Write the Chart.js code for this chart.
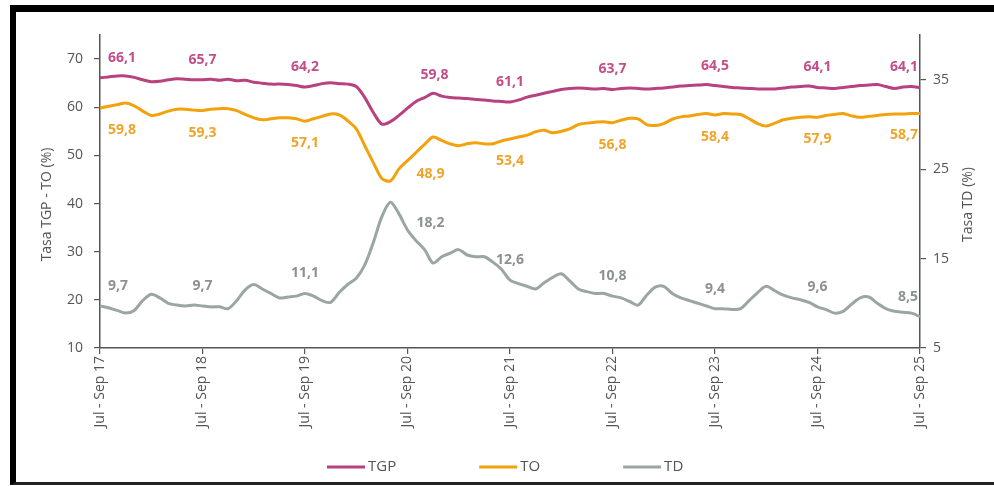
<!DOCTYPE html>
<html lang="es">
<head>
<meta charset="utf-8">
<title>TGP, TO y TD</title>
<script src="https://cdn.jsdelivr.net/npm/chart.js@4.4.1/dist/chart.umd.min.js"></script>
<style>
  html, body { margin: 0; padding: 0; background: #fff; overflow: hidden; }
  #wrap { position: relative; width: 994px; height: 486px; overflow: hidden; }
  #lineChart { position: absolute; left: 0; top: 0; }
  #frame {
    position: absolute; left: 10px; top: 5px; width: 1000px; height: 470px;
    border-top: 7px solid #000; border-left: 6px solid #000; border-bottom: 3px solid #222;
    pointer-events: none;
  }
</style>
</head>
<body>
<div id="wrap">
  <canvas id="lineChart" width="994" height="486"></canvas>
  <div id="frame"></div>
</div>
<script>
// ===== DATA =====
const MONTHS = ['Ene', 'Feb', 'Mar', 'Abr', 'May', 'Jun', 'Jul', 'Ago', 'Sep', 'Oct', 'Nov', 'Dic'];
const START_MONTH = 6;   // Jul
const START_YEAR = 2017;
const LABEL_EVERY = 12;  // one tick per year (Jul - Sep)

const SERIES_NAMES = ['TGP', 'TO', 'TD'];

// Tasa global de participación (%)
const tgp = [
  66.1, 66.3, 66.5, 66.5, 66.2, 65.7, 65.3, 65.4, 65.7, 65.9, 65.8, 65.7,
  65.7, 65.8, 65.6, 65.8, 65.5, 65.6, 65.2, 65.0, 64.8, 64.8, 64.7, 64.5,
  64.2, 64.5, 64.9, 65.1, 64.9, 64.8, 64.3, 62.0, 58.9, 56.5, 57.0, 58.3,
  59.8, 61.2, 62.0, 62.9, 62.3, 62.0, 61.9, 61.8, 61.6, 61.5, 61.3, 61.2,
  61.1, 61.5, 62.1, 62.5, 62.9, 63.3, 63.7, 63.9, 64.0, 63.9, 63.8, 63.9,
  63.7, 63.9, 64.0, 63.9, 63.8, 63.9, 64.0, 64.2, 64.4, 64.5, 64.6, 64.7,
  64.5, 64.3, 64.1, 64.0, 63.9, 63.8, 63.8, 63.8, 64.0, 64.2, 64.3, 64.4,
  64.1, 64.0, 63.9, 64.1, 64.3, 64.5, 64.6, 64.7, 64.3, 63.9, 64.2, 64.3,
  64.1
];

// Tasa de ocupación (%)
const to = [
  59.8, 60.2, 60.5, 60.9, 60.3, 59.2, 58.3, 58.6, 59.2, 59.6, 59.6, 59.4,
  59.3, 59.6, 59.7, 59.7, 59.3, 58.5, 57.8, 57.4, 57.6, 57.8, 57.8, 57.6,
  57.1, 57.6, 58.1, 58.6, 58.4, 57.2, 55.5, 52.0, 48.5, 45.2, 44.7, 47.2,
  48.9, 50.6, 52.3, 53.8, 53.1, 52.4, 52.0, 52.4, 52.6, 52.4, 52.4, 53.0,
  53.4, 53.8, 54.2, 54.9, 55.2, 54.7, 55.0, 55.5, 56.4, 56.7, 56.9, 57.0,
  56.8, 57.3, 57.7, 57.6, 56.4, 56.2, 56.6, 57.5, 58.0, 58.2, 58.5, 58.7,
  58.4, 58.7, 58.6, 58.5, 57.6, 56.6, 56.1, 56.7, 57.4, 57.7, 57.9, 58.0,
  57.9, 58.3, 58.5, 58.7, 58.2, 57.9, 58.1, 58.3, 58.5, 58.6, 58.6, 58.7,
  58.7
];

// Tasa de desempleo (%), eje derecho
const td = [
  9.7, 9.5, 9.2, 8.9, 9.2, 10.3, 11.0, 10.6, 10.0, 9.8, 9.7, 9.8,
  9.7, 9.6, 9.6, 9.4, 10.3, 11.5, 12.1, 11.6, 11.1, 10.6, 10.7, 10.8,
  11.1, 10.8, 10.3, 10.1, 11.2, 12.1, 12.8, 14.3, 16.8, 19.7, 21.3, 20.0,
  18.2, 17.0, 16.0, 14.5, 15.2, 15.6, 16.0, 15.4, 15.2, 15.2, 14.6, 13.8,
  12.6, 12.2, 11.9, 11.6, 12.3, 12.9, 13.3, 12.5, 11.6, 11.3, 11.1, 11.1,
  10.8, 10.6, 10.2, 9.8, 10.9, 11.8, 11.9, 11.1, 10.6, 10.3, 10.0, 9.7,
  9.4, 9.4, 9.3, 9.4, 10.3, 11.2, 11.9, 11.4, 10.9, 10.6, 10.4, 10.1,
  9.6, 9.3, 8.9, 9.1, 9.9, 10.6, 10.7, 10.0, 9.4, 9.1, 9.0, 8.9,
  8.5
];

const LEFT_TICKS = [10, 20, 30, 40, 50, 60, 70];
const RIGHT_TICKS = [5, 15, 25, 35];
const LEFT_TITLE = 'Tasa TGP - TO (%)';
const RIGHT_TITLE = 'Tasa TD (%)';

// Rolling quarter labels: "Jul - Sep 17", "Ago - Oct 17", ...
function quarterLabel(k) {
  const a = START_MONTH + k, b = a + 2;
  const ya = String(START_YEAR + Math.floor(a / 12)).slice(2);
  const yb = String(START_YEAR + Math.floor(b / 12)).slice(2);
  const ma = MONTHS[a % 12], mb = MONTHS[b % 12];
  return ya === yb ? `${ma} - ${mb} ${yb}` : `${ma} ${ya} - ${mb} ${yb}`;
}
const labels = tgp.map((_, k) => quarterLabel(k));

// ===== STYLE =====
const FONT = "'Open Sans', 'Noto Sans', sans-serif";
const AXIS_COLOR = '#555';
const COLORS = { TGP: '#b8417f', TO: '#f2a20c', TD: '#9aa6a2' };
const LABEL_STYLE = {
  TGP: { color: '#c24f8a', dy: -20 },
  TO: { color: '#eea52a', dy: 22 },
  TD: { color: '#8c9191', dy: -20 }
};
// hand nudges for the labels around the 2020 dip
const LABEL_NUDGE = {
  TGP: { 36: [27, -13] },
  TO: { 36: [23, -9] },
  TD: { 36: [23, 13] }
};

const fmt = v => v.toFixed(1).replace('.', ',');

// ===== PLUGINS =====
const valueLabels = {
  id: 'valueLabels',
  afterDatasetsDraw(chart) {
    const ctx = chart.ctx;
    ctx.save();
    ctx.font = `bold 14px ${FONT}`;
    ctx.textBaseline = 'middle';
    chart.data.datasets.forEach((ds, di) => {
      const meta = chart.getDatasetMeta(di);
      const st = LABEL_STYLE[ds.label];
      const nudge = LABEL_NUDGE[ds.label] || {};
      const last = ds.data.length - 1;
      ctx.fillStyle = st.color;
      for (let i = 0; i <= last; i += LABEL_EVERY) {
        const pt = meta.data[i];
        let x = pt.x, y = pt.y + st.dy;
        ctx.textAlign = 'center';
        if (i === 0) { ctx.textAlign = 'left'; x += 8; }
        if (i === last) { ctx.textAlign = 'right'; x -= 2; }
        if (nudge[i]) { x += nudge[i][0]; y += nudge[i][1]; }
        ctx.fillText(fmt(ds.data[i]), x, y);
      }
    });
    ctx.restore();
  }
};

const axisTitles = {
  id: 'axisTitles',
  afterDraw(chart) {
    const ctx = chart.ctx;
    const midY = (chart.chartArea.top + chart.chartArea.bottom) / 2 + 13;
    ctx.save();
    ctx.font = `14px ${FONT}`;
    ctx.fillStyle = AXIS_COLOR;
    ctx.textAlign = 'center';
    ctx.textBaseline = 'middle';
    [[47, LEFT_TITLE], [968, RIGHT_TITLE]].forEach(([x, text]) => {
      ctx.save();
      ctx.translate(x, midY);
      ctx.rotate(-Math.PI / 2);
      ctx.fillText(text, 0, 0);
      ctx.restore();
    });
    ctx.restore();
  }
};

const lineLegend = {
  id: 'lineLegend',
  afterDraw(chart) {
    const ctx = chart.ctx;
    const y = 467;
    let x = 327;
    ctx.save();
    ctx.font = `15px ${FONT}`;
    ctx.textBaseline = 'middle';
    ctx.textAlign = 'left';
    chart.data.datasets.forEach(ds => {
      ctx.fillStyle = ds.borderColor;
      ctx.fillRect(x, y - 1.5, 38, 3);
      ctx.fillStyle = AXIS_COLOR;
      ctx.fillText(ds.label, x + 41, y);
      x += 41 + ctx.measureText(ds.label).width + 83;
    });
    ctx.restore();
  }
};

// ===== CHART =====
const makeSeries = (name, data, axis) => ({
  label: name,
  data,
  yAxisID: axis,
  borderColor: COLORS[name],
  backgroundColor: COLORS[name],
  borderWidth: 3,
  pointRadius: 0,
  tension: 0.3,
  fill: false
});

const config = {
  type: 'line',
  data: {
    labels,
    datasets: [
      makeSeries(SERIES_NAMES[0], tgp, 'y'),
      makeSeries(SERIES_NAMES[1], to, 'y'),
      makeSeries(SERIES_NAMES[2], td, 'y1')
    ]
  },
  options: {
    responsive: false,
    animation: false,
    layout: { padding: { left: 20, right: 0, top: 35, bottom: 38 } },
    plugins: {
      legend: { display: false },
      tooltip: { enabled: false }
    },
    scales: {
      x: {
        offset: false,
        grid: { drawOnChartArea: false, tickLength: 6, color: AXIS_COLOR, lineWidth: 1.2 },
        border: { color: AXIS_COLOR, width: 1.5 },
        ticks: {
          autoSkip: false,
          maxRotation: 90,
          minRotation: 90,
          padding: 2,
          color: AXIS_COLOR,
          font: { family: FONT, size: 14 },
          callback: (value, index) => (index % LABEL_EVERY === 0 ? labels[index] : null)
        },
        afterFit: scale => { scale.height = 100; }
      },
      y: {
        position: 'left',
        min: 10,
        max: 75,
        grid: { drawOnChartArea: false, tickLength: 6, color: AXIS_COLOR, lineWidth: 1.2 },
        border: { color: AXIS_COLOR, width: 1.5 },
        ticks: { padding: 11, color: AXIS_COLOR, font: { family: FONT, size: 14 } },
        afterBuildTicks: scale => { scale.ticks = LEFT_TICKS.map(v => ({ value: v })); },
        afterFit: scale => { scale.width = 80; }
      },
      y1: {
        position: 'right',
        min: 5,
        max: 40,
        grid: { drawOnChartArea: false, tickLength: 6, color: AXIS_COLOR, lineWidth: 1.2 },
        border: { color: AXIS_COLOR, width: 1.5 },
        ticks: { padding: 7, color: AXIS_COLOR, font: { family: FONT, size: 14 } },
        afterBuildTicks: scale => { scale.ticks = RIGHT_TICKS.map(v => ({ value: v })); },
        afterFit: scale => { scale.width = 74; }
      }
    }
  },
  plugins: [valueLabels, axisTitles, lineLegend]
};

new Chart(document.getElementById('lineChart'), config);
</script>
</body>
</html>
